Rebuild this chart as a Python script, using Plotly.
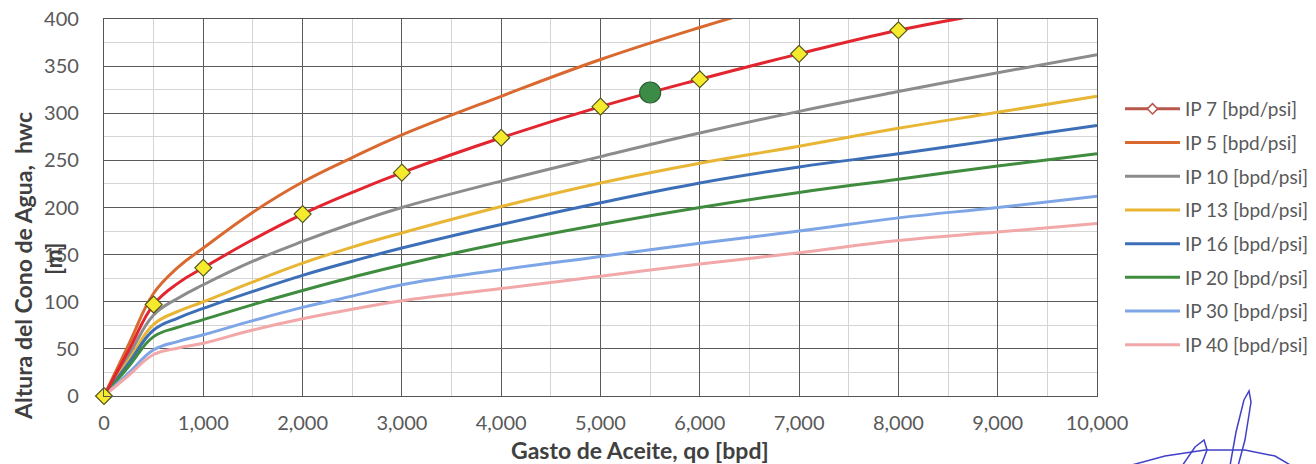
import plotly.graph_objects as go

# ---------------- data ----------------
qo = [0, 250, 500, 750, 1000, 1500, 2000, 2500, 3000, 4000, 5000, 6000, 7000, 8000, 9000, 10000]
ip7 = [0, 48.5, 97, 120, 136, 166, 193, 216, 237, 274, 307, 336, 363, 388, 408, 428]
ip5 = [0, 55, 109, 137, 157, 195, 227, 253, 277, 318, 357, 391, 422, 452, 480, 507]
ip10 = [0, 43, 86, 104, 118, 143, 164, 183, 200, 228, 254, 279, 302, 323, 343, 362]
ip13 = [0, 38, 76, 90, 100, 121, 141, 158, 173, 201, 226, 247, 265, 284, 301, 318]
ip16 = [0, 35, 70, 83, 93, 111, 128, 143, 157, 182, 205, 226, 243, 257, 272, 287]
ip20 = [0, 31.5, 63, 73, 81, 97, 112, 126, 139, 162, 182, 200, 216, 230, 244, 257]
ip30 = [0, 24.5, 49, 58, 65, 80, 94, 106, 118, 134, 148, 162, 175, 189, 200, 212]
ip40 = [0, 22, 44, 51, 56, 70, 82, 92, 101, 114, 127, 140, 152, 165, 174, 183]

# IP 7 marker points (sampled values)
ip7_mark_qo = [0, 500, 1000, 2000, 3000, 4000, 5000, 6000, 7000, 8000, 9000, 10000]
ip7_mark_h = [0, 97, 136, 193, 237, 274, 307, 336, 363, 388, 408, 428]

op_qo = [5500]
op_h = [322]

names = ["IP 7 [bpd/psi]", "IP 5 [bpd/psi]", "IP 10 [bpd/psi]", "IP 13 [bpd/psi]",
         "IP 16 [bpd/psi]", "IP 20 [bpd/psi]", "IP 30 [bpd/psi]", "IP 40 [bpd/psi]"]
values = [ip7, ip5, ip10, ip13, ip16, ip20, ip30, ip40]
colors = ["#e2252f", "#d9692e", "#8c8c8c", "#e8b534", "#3d6fb8", "#3f8c3f", "#7ea6e6", "#f2a7a8"]

x_ticks = [0, 1000, 2000, 3000, 4000, 5000, 6000, 7000, 8000, 9000, 10000]
y_ticks = [0, 50, 100, 150, 200, 250, 300, 350, 400]

FONT = "Lato"
TXT = "#595959"

fig = go.Figure()

# draw lines (IP 7 last so it sits on top)
order = [1, 2, 3, 4, 5, 6, 7, 0]
for i in order:
    fig.add_trace(go.Scatter(
        x=qo, y=values[i], mode="lines",
        line=dict(color=colors[i], width=3, shape="spline", smoothing=1.2),
        showlegend=False, hoverinfo="skip"))

# legend entries
for i, nm in enumerate(names):
    if i == 0:
        fig.add_trace(go.Scatter(
            x=[None], y=[None], mode="lines+markers", name=nm, legendgroup=nm, legendrank=i,
            line=dict(color="#b8574c", width=3),
            marker=dict(symbol="diamond", size=8, color="white", line=dict(color="#b8574c", width=1.5))))
    else:
        fig.add_trace(go.Scatter(
            x=[None], y=[None], mode="lines", name=nm, legendgroup=nm, legendrank=i,
            line=dict(color=colors[i], width=3)))

# IP 7 markers (only those inside the axis range are visible)
mx = [x for x, y in zip(ip7_mark_qo, ip7_mark_h) if y <= 400]
my = [y for y in ip7_mark_h if y <= 400]
fig.add_trace(go.Scatter(
    x=mx, y=my, mode="markers", showlegend=False, cliponaxis=False,
    marker=dict(symbol="diamond", size=13, color="#f6ea2c", line=dict(color="#55551f", width=1.2))))

# operating point
fig.add_trace(go.Scatter(
    x=op_qo, y=op_h, mode="markers", showlegend=False, cliponaxis=False,
    marker=dict(symbol="circle", size=21, color="#3c8c48", line=dict(color="#2a5e33", width=1.2))))

axis_common = dict(
    showline=True, linecolor="#555555", linewidth=1.3, mirror=True,
    showgrid=True, gridcolor="#5a5a5a", gridwidth=1.2,
    ticks="", zeroline=False,
    tickfont=dict(family=FONT, size=20, color=TXT),
)
fig.update_xaxes(range=[0, 10000], tickvals=x_ticks, tickformat=",d",
                 minor=dict(dtick=500, showgrid=True, gridcolor="#d4d4d4", gridwidth=1),
                 ticklabelstandoff=9, **axis_common)
fig.update_yaxes(range=[0, 400], tickvals=y_ticks,
                 minor=dict(dtick=25, showgrid=True, gridcolor="#d4d4d4", gridwidth=1),
                 ticklabelstandoff=20, **axis_common)

W, H = 1316, 464
L, R, T, B = 104, 219, 19, 68
pw, ph = W - L - R, H - T - B


def px(xp):
    return (xp - L) / pw


def py(yp):
    return (H - B - yp) / ph


TITLE_FONT = dict(family=FONT, size=23, color="#404040")
fig.add_annotation(text="<b>Gasto de Aceite, qo [bpd]</b>", xref="paper", yref="paper",
                   x=px(640), y=py(450), xanchor="center", yanchor="middle", showarrow=False,
                   font=TITLE_FONT)
fig.add_annotation(text="<b>Altura del Cono de Agua,  hwc</b>", xref="paper", yref="paper",
                   x=px(23), y=py(266), xanchor="center", yanchor="middle", showarrow=False,
                   textangle=-90, font=TITLE_FONT)
fig.add_annotation(text="<b>[m]</b>", xref="paper", yref="paper",
                   x=px(53), y=py(259), xanchor="center", yanchor="middle", showarrow=False,
                   textangle=-90, font=TITLE_FONT)

# signature scribble (decoration)
sig = [(1128, 466), (1165, 456), (1205, 450), (1245, 450), (1275, 456), (1292, 466)]
sig2 = [(1230, 466), (1236, 432), (1244, 400), (1249, 391), (1251, 402), (1245, 440), (1238, 466)]
sig3 = [(1182, 466), (1195, 447), (1204, 440), (1207, 450), (1201, 466)]
for s in (sig, sig2, sig3):
    path = "M " + " L ".join(f"{px(a):.4f},{py(b):.4f}" for a, b in s)
    fig.add_shape(type="path", path=path, xref="paper", yref="paper",
                  line=dict(color="#4040c8", width=1.5))

fig.update_layout(
    width=W, height=H,
    margin=dict(l=L, r=R, t=T, b=B, autoexpand=False),
    paper_bgcolor="white", plot_bgcolor="white",
    font=dict(family=FONT, color=TXT),
    legend=dict(xref="container", yref="container", x=1120 / W, xanchor="left",
                y=1 - 90 / H, yanchor="top", itemwidth=55, tracegroupgap=6, maxheight=420,
                font=dict(family=FONT, size=19, color=TXT), bgcolor="rgba(0,0,0,0)"),
)

fig.write_html("out.html")
